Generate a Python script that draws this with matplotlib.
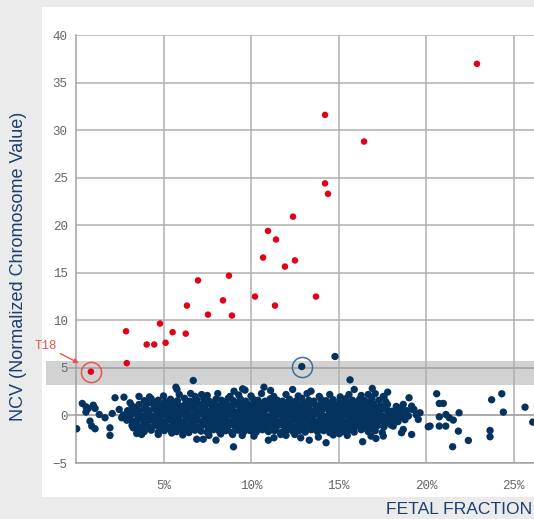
import numpy as np
import matplotlib.pyplot as plt
from matplotlib.patches import Rectangle

# ---- data (fetal fraction %, NCV) ----
# affected samples (red)
ff_affected = [22.91, 14.23, 16.46, 14.23, 14.4, 12.4, 10.97, 11.43, 10.69, 12.51,
               11.94, 8.74, 6.97, 13.71, 10.23, 8.4, 11.37, 6.34, 7.54, 8.91,
               4.8, 2.86, 5.52, 6.27, 5.12, 4.04, 4.47, 2.9]
ncv_affected = [36.97, 31.6, 28.8, 24.4, 23.3, 20.9, 19.4, 18.5, 16.6, 16.3,
                15.65, 14.7, 14.2, 12.5, 12.5, 12.1, 11.55, 11.55, 10.6, 10.5,
                9.66, 8.85, 8.75, 8.6, 7.64, 7.46, 7.46, 5.5]

# the flagged T18 sample and the flagged unaffected sample
t18_point = (0.85, 4.6)
flag_point = (12.9, 5.14)

# unaffected samples (blue), grouped by where they sit in the cloud
left_tail = [(0.04, -1.4), (0.36, 1.26), (0.57, 0.91), (0.7, 0.74), (0.99, 1.08), (1.09, 0.74),
             (0.8, -0.6), (0.9, -1.12), (1.09, -1.4), (1.33, 0.1), (1.66, -0.24), (1.94, -1.3),
             (1.94, -2.1), (2.07, 0.2), (2.47, 0.63), (2.61, -0.24), (2.99, 0.28), (3.18, -0.6),
             (3.27, -1.3), (0.57, 0.35), (2.23, 1.86), (2.74, 1.92), (3.09, 1.33)]

top_fringe = [(3.6, 2.0), (4.2, 1.95), (5.0, 2.05), (5.9, 2.2), (6.8, 2.0), (7.5, 2.1), (8.1, 2.3),
              (8.8, 2.0), (9.3, 2.15), (10.0, 2.05), (10.6, 2.3), (11.3, 2.0), (12.0, 2.2),
              (12.7, 2.05), (13.2, 2.3), (13.9, 2.0), (14.5, 2.2), (15.1, 1.95), (15.6, 2.2),
              (16.3, 2.1), (17.1, 2.3), (17.6, 1.95), (5.71, 2.97), (5.77, 2.73), (6.55, 2.31),
              (7.18, 2.2), (9.03, 2.55), (9.66, 2.66), (9.52, 2.8), (10.74, 2.97), (11.12, 2.63),
              (12.38, 2.73), (13.43, 2.55), (15.9, 2.73), (16.93, 2.84), (17.81, 2.45),
              (16.7, 2.2), (17.56, 2.0), (19.03, 1.86), (18.7, 1.16), (19.18, 0.98),
              (19.31, 0.63), (19.66, 0.28)]

core_upper = [(3.9, 1.55), (4.3, 1.75), (4.7, 1.6), (5.1, 1.45), (5.4, 1.7), (5.8, 1.55), (6.2, 1.8),
              (6.5, 1.5), (6.9, 1.65), (7.3, 1.75), (7.6, 1.5), (8.0, 1.7), (8.3, 1.6), (8.7, 1.8),
              (9.0, 1.55), (9.4, 1.7), (9.7, 1.5), (10.1, 1.75), (10.4, 1.6), (10.8, 1.5), (11.1, 1.75),
              (11.5, 1.6), (11.8, 1.5), (12.2, 1.7), (12.6, 1.55), (12.9, 1.8), (13.3, 1.6), (13.6, 1.5),
              (14.0, 1.7), (14.3, 1.55), (14.7, 1.65), (15.1, 1.5), (15.4, 1.75), (15.8, 1.6),
              (16.2, 1.7), (16.5, 1.55), (16.9, 1.8), (17.3, 1.6), (17.7, 1.45),
              (4.1, 1.35), (4.6, 1.4), (5.2, 1.3), (5.7, 1.38), (6.3, 1.32), (6.8, 1.4), (7.4, 1.3),
              (7.9, 1.36), (8.5, 1.4), (9.1, 1.3), (9.6, 1.35), (10.2, 1.4), (10.7, 1.3), (11.3, 1.38),
              (11.9, 1.32), (12.4, 1.4), (13.0, 1.3), (13.5, 1.36), (14.1, 1.4), (14.6, 1.3),
              (15.2, 1.35), (15.7, 1.4), (16.3, 1.3), (16.8, 1.36),
              (3.2, 1.0), (3.6, 1.15), (4.0, 1.05), (4.4, 1.2), (4.7, 1.0), (5.0, 1.15), (5.3, 1.05),
              (5.6, 1.2), (5.9, 1.0), (6.2, 1.1), (6.5, 1.2), (6.8, 1.0), (7.1, 1.15), (7.4, 1.05),
              (7.7, 1.2), (8.0, 1.0), (8.3, 1.1), (8.6, 1.2), (8.9, 1.05), (9.2, 1.15), (9.5, 1.0),
              (9.8, 1.2), (10.1, 1.05), (10.4, 1.15), (10.7, 1.0), (11.0, 1.2), (11.3, 1.1),
              (11.6, 1.0), (11.9, 1.15), (12.2, 1.05), (12.5, 1.2), (12.8, 1.0), (13.1, 1.1),
              (13.4, 1.2), (13.7, 1.05), (14.0, 1.15), (14.3, 1.0), (14.6, 1.2), (14.9, 1.1),
              (15.2, 1.0), (15.5, 1.15), (15.8, 1.05), (16.1, 1.2), (16.4, 1.0), (16.7, 1.1),
              (17.0, 1.2), (17.4, 1.0), (17.8, 1.15), (18.3, 0.95),
              (3.4, 0.8), (3.95, 0.85), (4.5, 0.78), (5.05, 0.86), (5.6, 0.8), (6.15, 0.84), (6.7, 0.78),
              (7.25, 0.86), (7.8, 0.8), (8.35, 0.84), (8.9, 0.78), (9.45, 0.86), (10.0, 0.8),
              (10.55, 0.84), (11.1, 0.78), (11.65, 0.86), (12.2, 0.8), (12.75, 0.84), (13.3, 0.78),
              (13.85, 0.86), (14.4, 0.8), (14.95, 0.84), (15.5, 0.78), (16.05, 0.86), (16.6, 0.8),
              (17.15, 0.84), (17.7, 0.78), (18.6, 0.82)]

core_middle = [(2.95, 0.5), (3.3, 0.6), (3.6, 0.45), (3.9, 0.65), (4.2, 0.5), (4.55, 0.6), (4.8, 0.45),
               (5.1, 0.6), (5.45, 0.5), (5.7, 0.65), (6.0, 0.45), (6.35, 0.55), (6.6, 0.65), (6.9, 0.5),
               (7.25, 0.6), (7.5, 0.45), (7.8, 0.55), (8.1, 0.65), (8.45, 0.5), (8.7, 0.6), (9.0, 0.45),
               (9.35, 0.55), (9.6, 0.65), (9.9, 0.5), (10.25, 0.6), (10.5, 0.45), (10.8, 0.55),
               (11.1, 0.65), (11.45, 0.5), (11.7, 0.6), (12.0, 0.45), (12.35, 0.55), (12.6, 0.65),
               (12.9, 0.5), (13.2, 0.6), (13.5, 0.45), (13.8, 0.55), (14.1, 0.65), (14.45, 0.5),
               (14.7, 0.6), (15.0, 0.45), (15.3, 0.55), (15.6, 0.65), (15.9, 0.5), (16.2, 0.6),
               (16.5, 0.45), (16.8, 0.55), (17.1, 0.65), (17.4, 0.5), (17.75, 0.6), (18.05, 0.45),
               (18.45, 0.65), (18.9, 0.5), (19.25, 0.6),
               (3.0, 0.25), (3.55, 0.3), (4.1, 0.22), (4.65, 0.3), (5.2, 0.25), (5.75, 0.28), (6.3, 0.22),
               (6.85, 0.3), (7.4, 0.25), (7.95, 0.28), (8.5, 0.22), (9.05, 0.3), (9.6, 0.25),
               (10.15, 0.28), (10.7, 0.22), (11.25, 0.3), (11.8, 0.25), (12.35, 0.28), (12.9, 0.22),
               (13.45, 0.3), (14.0, 0.25), (14.55, 0.28), (15.1, 0.22), (15.65, 0.3), (16.2, 0.25),
               (16.75, 0.28), (17.3, 0.22), (17.85, 0.3), (18.4, 0.3),
               (2.7, 0.05), (3.1, -0.05), (3.45, 0.1), (3.75, -0.05), (4.05, 0.05), (4.35, -0.1),
               (4.65, 0.05), (4.95, 0.1), (5.25, -0.05), (5.55, 0.05), (5.85, -0.1), (6.15, 0.1),
               (6.45, 0.0), (6.75, -0.05), (7.05, 0.1), (7.35, 0.0), (7.65, -0.1), (7.95, 0.05),
               (8.25, 0.1), (8.55, -0.05), (8.85, 0.05), (9.15, -0.1), (9.45, 0.1), (9.75, 0.0),
               (10.05, -0.05), (10.35, 0.1), (10.65, 0.0), (10.95, -0.1), (11.25, 0.05), (11.55, 0.1),
               (11.85, -0.05), (12.15, 0.05), (12.45, -0.1), (12.75, 0.1), (13.05, 0.0), (13.35, -0.05),
               (13.65, 0.1), (13.95, 0.0), (14.25, -0.1), (14.55, 0.05), (14.85, 0.1), (15.15, -0.05),
               (15.45, 0.05), (15.75, -0.1), (16.05, 0.1), (16.35, 0.0), (16.65, -0.05), (16.95, 0.1),
               (17.25, 0.0), (17.55, -0.1), (17.9, 0.05), (18.2, -0.05), (18.6, 0.1), (19.0, -0.05),
               (19.45, 0.05),
               (3.05, -0.25), (3.6, -0.3), (4.15, -0.22), (4.7, -0.3), (5.25, -0.25), (5.8, -0.28),
               (6.35, -0.22), (6.9, -0.3), (7.45, -0.25), (8.0, -0.28), (8.55, -0.22), (9.1, -0.3),
               (9.65, -0.25), (10.2, -0.28), (10.75, -0.22), (11.3, -0.3), (11.85, -0.25), (12.4, -0.28),
               (12.95, -0.22), (13.5, -0.3), (14.05, -0.25), (14.6, -0.28), (15.15, -0.22), (15.7, -0.3),
               (16.25, -0.25), (16.8, -0.28), (17.35, -0.22), (17.9, -0.3), (18.5, -0.25)]

core_lower = [(2.9, -0.5), (3.25, -0.6), (3.55, -0.45), (3.9, -0.65), (4.2, -0.5), (4.5, -0.6),
              (4.8, -0.45), (5.1, -0.65), (5.4, -0.5), (5.7, -0.55), (6.0, -0.65), (6.3, -0.45),
              (6.6, -0.6), (6.9, -0.5), (7.2, -0.65), (7.5, -0.45), (7.8, -0.55), (8.1, -0.6),
              (8.4, -0.45), (8.7, -0.65), (9.0, -0.5), (9.3, -0.55), (9.6, -0.65), (9.9, -0.45),
              (10.2, -0.6), (10.5, -0.5), (10.8, -0.65), (11.1, -0.45), (11.4, -0.55), (11.7, -0.6),
              (12.0, -0.5), (12.3, -0.65), (12.6, -0.45), (12.9, -0.55), (13.2, -0.6), (13.5, -0.5),
              (13.8, -0.65), (14.1, -0.45), (14.4, -0.55), (14.7, -0.6), (15.0, -0.5), (15.3, -0.65),
              (15.6, -0.45), (15.9, -0.55), (16.2, -0.6), (16.5, -0.5), (16.8, -0.65), (17.1, -0.45),
              (17.4, -0.55), (17.7, -0.6), (18.05, -0.5), (18.4, -0.65), (18.8, -0.45),
              (3.4, -0.8), (3.95, -0.85), (4.5, -0.78), (5.05, -0.86), (5.6, -0.8), (6.15, -0.84),
              (6.7, -0.78), (7.25, -0.86), (7.8, -0.8), (8.35, -0.84), (8.9, -0.78), (9.45, -0.86),
              (10.0, -0.8), (10.55, -0.84), (11.1, -0.78), (11.65, -0.86), (12.2, -0.8), (12.75, -0.84),
              (13.3, -0.78), (13.85, -0.86), (14.4, -0.8), (14.95, -0.84), (15.5, -0.78), (16.05, -0.86),
              (16.6, -0.8), (17.15, -0.84), (17.7, -0.78),
              (3.2, -1.05), (3.55, -1.15), (3.85, -1.0), (4.15, -1.2), (4.5, -1.05), (4.8, -1.15),
              (5.1, -1.0), (5.4, -1.2), (5.7, -1.1), (6.0, -1.0), (6.35, -1.15), (6.65, -1.05),
              (6.95, -1.2), (7.25, -1.0), (7.55, -1.1), (7.85, -1.15), (8.15, -1.05), (8.45, -1.2),
              (8.75, -1.0), (9.05, -1.1), (9.35, -1.15), (9.65, -1.05), (9.95, -1.2), (10.25, -1.0),
              (10.55, -1.1), (10.85, -1.15), (11.15, -1.05), (11.45, -1.2), (11.75, -1.0), (12.05, -1.1),
              (12.35, -1.15), (12.65, -1.05), (12.95, -1.2), (13.25, -1.0), (13.55, -1.1), (13.85, -1.15),
              (14.15, -1.05), (14.45, -1.2), (14.75, -1.0), (15.05, -1.1), (15.35, -1.15), (15.65, -1.05),
              (15.95, -1.2), (16.25, -1.0), (16.55, -1.1), (16.9, -1.15), (17.25, -1.05), (17.6, -1.2),
              (18.0, -1.0),
              (3.7, -1.3), (4.25, -1.38), (4.8, -1.32), (5.35, -1.4), (5.9, -1.3), (6.45, -1.36),
              (7.0, -1.4), (7.55, -1.3), (8.1, -1.35), (8.65, -1.4), (9.2, -1.3), (9.75, -1.38),
              (10.3, -1.32), (10.85, -1.4), (11.4, -1.3), (11.95, -1.36), (12.5, -1.4), (13.05, -1.3),
              (13.6, -1.35), (14.15, -1.4), (14.7, -1.3), (15.25, -1.38), (15.8, -1.32), (16.35, -1.4),
              (16.9, -1.3),
              (3.5, -1.5), (3.9, -1.7), (4.3, -1.55), (4.7, -1.75), (5.05, -1.6), (5.4, -1.5), (5.75, -1.7),
              (6.1, -1.6), (6.45, -1.8), (6.8, -1.55), (7.15, -1.65), (7.5, -1.75), (7.85, -1.5), (8.2, -1.7),
              (8.55, -1.6), (8.9, -1.8), (9.25, -1.55), (9.6, -1.7), (9.95, -1.6), (10.3, -1.75),
              (10.65, -1.5), (11.0, -1.7), (11.35, -1.6), (11.7, -1.8), (12.05, -1.55), (12.4, -1.7),
              (12.75, -1.6), (13.1, -1.75), (13.45, -1.5), (13.8, -1.7), (14.15, -1.6), (14.5, -1.8),
              (14.85, -1.55), (15.2, -1.7), (15.55, -1.6), (15.9, -1.75), (16.3, -1.5), (16.7, -1.7),
              (17.1, -1.6), (17.5, -1.8)]

bottom_fringe = [(3.47, -1.9), (3.75, -2.0), (4.7, -2.0), (5.47, -1.85), (6.1, -2.05), (6.9, -2.5),
                 (7.27, -2.5), (7.6, -2.1), (8.0, -2.6), (8.27, -1.95), (8.95, -2.0), (9.0, -3.3),
                 (9.5, -2.1), (10.17, -2.17), (10.99, -2.6), (11.31, -2.35), (11.7, -2.0), (12.0, -2.1),
                 (12.5, -2.0), (12.84, -2.35), (13.33, -2.6), (13.85, -2.28), (14.29, -2.87),
                 (14.7, -2.05), (15.05, -1.92), (15.5, -2.1), (16.38, -2.76), (16.86, -2.17),
                 (17.14, -2.42), (17.56, -2.17), (18.6, -1.82), (18.7, -1.47), (18.13, -1.12),
                 (19.18, -2.0), (20.13, -1.19), (19.56, -0.42)]

right_tail = [(20.61, 2.28), (20.76, 1.26), (20.99, 1.26), (20.76, -0.14), (21.14, 0.1), (21.33, -0.24),
              (21.56, -0.49), (21.89, 0.28), (20.76, -1.12), (21.13, -1.12), (20.23, -1.12),
              (21.85, -1.65), (21.52, -3.29), (22.42, -2.63), (23.66, -1.58), (23.66, -2.24),
              (23.75, 1.65), (24.33, 2.28), (24.42, 0.35), (25.66, 0.87), (26.1, -0.7)]

high_normals = [(6.7, 3.67), (15.66, 3.74), (14.8, 6.2), flag_point]

x_ticks = [5, 10, 15, 20, 25]
x_labels = ["5%", "10%", "15%", "20%", "25%"]
y_ticks = [-5, 0, 5, 10, 15, 20, 25, 30, 35, 40]
y_labels = ["\u22125", "0", "5", "10", "15", "20", "25", "30", "35", "40"]

BLUE = "#04335f"
RED = "#e2001a"
TITLE_BLUE = "#1c3f6e"

normals = np.array(left_tail + top_fringe + core_upper + core_middle + core_lower
                   + bottom_fringe + right_tail + high_normals)

fig = plt.figure(figsize=(5.34, 5.19), dpi=100, facecolor="#ebebeb")
panel = Rectangle((42 / 534, 22 / 519), 492 / 534, 490 / 519,
                  transform=fig.transFigure, facecolor="white", edgecolor="none")
panel.set_zorder(-10)
fig.add_artist(panel)

ax = fig.add_axes([76 / 534, 56 / 519, 458 / 534, 428 / 519])
ax.set_zorder(1)
ax.set_facecolor("white")
ax.set_xlim(0, 458 / 17.5)
ax.set_ylim(-5, 40)

# grey "no call" band, reaching out past the y axis
ax.add_patch(Rectangle((-1.72, 3.25), 30, 2.45, facecolor="#d2d2d2",
                       edgecolor="none", zorder=0.2, clip_on=False))
for yv in [0, 5]:
    ax.plot([-0.46, 30], [yv, yv], color="#a8a8a8", lw=1.2, zorder=0.6, clip_on=False)

ax.set_xticks(x_ticks)
ax.set_xticklabels(x_labels)
ax.set_yticks(y_ticks)
ax.set_yticklabels(y_labels)
ax.grid(True, color="#b0b0b0", lw=1.1)
ax.set_axisbelow(True)
ax.tick_params(length=0)
ax.tick_params(axis="x", pad=12)
ax.tick_params(axis="y", pad=6)
for lab in ax.get_xticklabels() + ax.get_yticklabels():
    lab.set_fontfamily("Liberation Mono")
    lab.set_fontsize(9)
    lab.set_color("#666666")
for side in ["top", "right"]:
    ax.spines[side].set_visible(False)
for side in ["left", "bottom"]:
    ax.spines[side].set_color("#a0a0a0")
    ax.spines[side].set_linewidth(1.1)

ax.scatter(normals[:, 0], normals[:, 1], s=28, color=BLUE, edgecolors="none", zorder=3)
ax.scatter(ff_affected, ncv_affected, s=22, color=RED, edgecolors="none", zorder=3)
ax.scatter([t18_point[0]], [t18_point[1]], s=22, color=RED, edgecolors="none", zorder=3)

# rings round the two highlighted samples
ax.plot(*t18_point, marker="o", ms=14.5, mfc="none", mec="#e8564d", mew=1.1, zorder=4, clip_on=False)
ax.plot(*flag_point, marker="o", ms=14.5, mfc="none", mec="#3d6c9f", mew=1.1, zorder=4)

ax.annotate("T18", xy=(0.17, 5.5), xytext=(-1.7, 7.25), ha="center", va="center",
            fontfamily="Liberation Mono", fontsize=9, color="#e8564d",
            arrowprops=dict(arrowstyle="-|>", color="#e8564d", lw=1, mutation_scale=7,
                            shrinkA=0, shrinkB=0),
            annotation_clip=False)

fig.text(19 / 534, 1 - 266 / 519, "NCV (Normalized Chromosome Value)", rotation=90,
         ha="center", va="center", fontsize=13, color=TITLE_BLUE, family="Liberation Sans")
fig.text(532 / 534, 1 - 510 / 519, "FETAL FRACTION", ha="right", va="center",
         fontsize=12.6, color=TITLE_BLUE, family="Liberation Sans")

fig.savefig("out.png", dpi=100, facecolor=fig.get_facecolor())
